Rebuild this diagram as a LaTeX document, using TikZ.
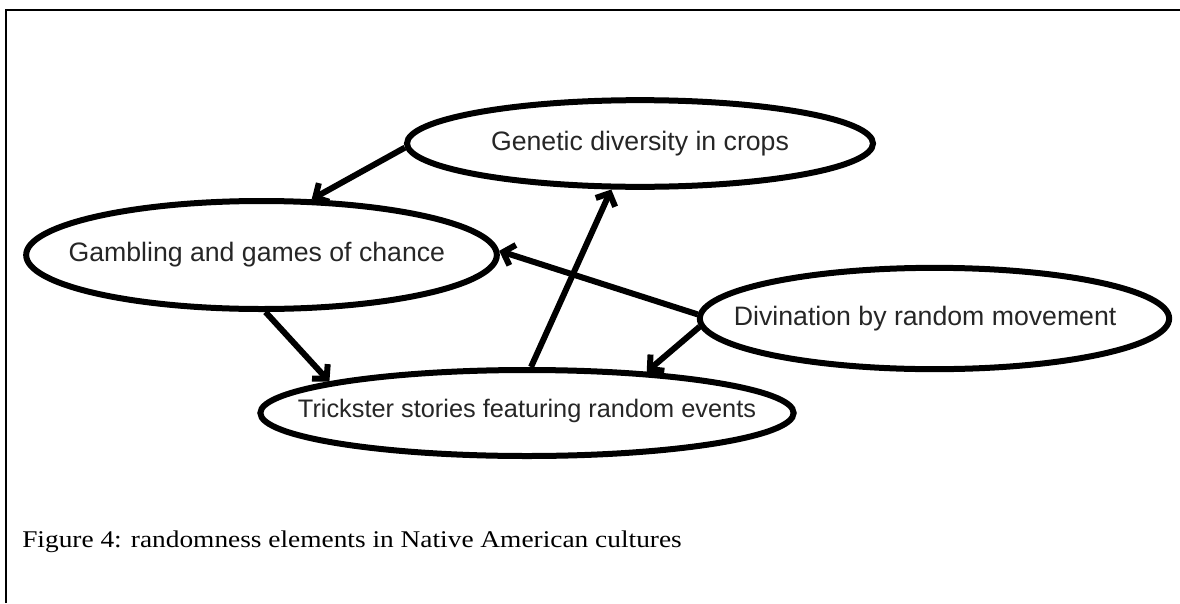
\documentclass[tikz,border=0pt]{standalone}
\usepackage{fontspec}
\setmainfont{Liberation Serif}
\newfontfamily\ellfont{Liberation Sans}
\newfontfamily\capfont[FakeStretch=1.14]{Liberation Serif}
\usetikzlibrary{shapes.geometric,arrows.meta}
\tikzset{
  ell/.style={draw=black, line width=4.5pt, shape=ellipse, inner sep=0pt},
  conn/.style={draw=black, line width=4.5pt, -{Straight Barb[length=7.5pt,width=16pt,line join=miter]}},
  elltext/.style={font=\ellfont\fontsize{20}{24}\selectfont, text=black!85, inner sep=0pt}
}
\begin{document}
\begin{tikzpicture}[x=0.75pt,y=-0.75pt]
\useasboundingbox (0,0) rectangle (1180,603);
\draw[line width=1.5pt] (6,603) -- (6,10) -- (1180,10);
\node[ell, minimum width=353pt, minimum height=81pt, label={[elltext, xshift=-3.5pt]center:Gambling and games of chance}] (gamb) at (261.5,255) {};
\node[ell, minimum width=349.5pt, minimum height=65pt, label={[elltext]center:Genetic diversity in crops}] (gen) at (640,143.5) {};
\node[ell, minimum width=352pt, minimum height=76pt, label={[elltext, xshift=-7pt]center:Divination by random movement}] (div) at (934.5,318.5) {};
\node[ell, minimum width=400pt, minimum height=64.5pt, label={[elltext, font=\ellfont\fontsize{19}{23}\selectfont, yshift=1.5pt]center:Trickster stories featuring random events}] (trick) at (527,413) {};
\draw[conn] (gen.181) -- (gamb.48.6);
\draw[conn] (gamb.-86) -- (trick.171);
\draw[conn] (trick.85) -- (gen.238);
\draw[conn] (div.179) -- (gamb.1);
\draw[conn] (div.182) -- (trick.19);
\node[anchor=base west, font=\capfont\fontsize{18}{21}\selectfont, inner sep=0pt] (cap) at (22,547) {Figure 4: randomness elements in Native American cultures};
\end{tikzpicture}
\end{document}
